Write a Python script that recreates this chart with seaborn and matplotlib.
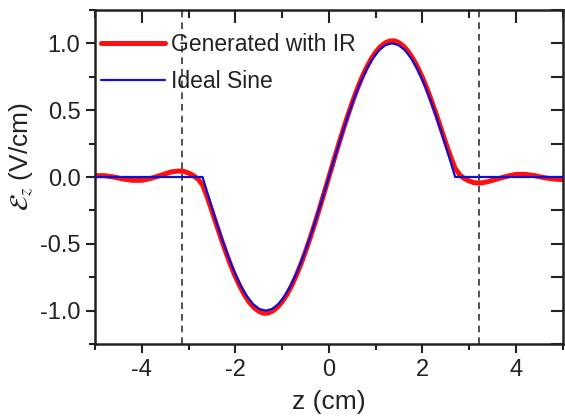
import numpy as np
import pandas as pd
import seaborn as sns
import matplotlib.pyplot as plt
from matplotlib.ticker import MultipleLocator

# ideal sine (zero outside |z| < 2.7)
z_ideal = [-5.0, -2.7, -2.565, -2.43, -2.295, -2.16, -2.025, -1.89, -1.755, -1.62, -1.485,
           -1.35, -1.215, -1.08, -0.945, -0.81, -0.675, -0.54, -0.405, -0.27, -0.135,
           0.0, 0.135, 0.27, 0.405, 0.54, 0.675, 0.81, 0.945, 1.08, 1.215,
           1.35, 1.485, 1.62, 1.755, 1.89, 2.025, 2.16, 2.295, 2.43, 2.565, 2.7, 5.0]
e_ideal = [0.0, 0.0, -0.156, -0.309, -0.454, -0.588, -0.707, -0.809, -0.891, -0.951, -0.988,
           -1.0, -0.988, -0.951, -0.891, -0.809, -0.707, -0.588, -0.454, -0.309, -0.156,
           0.0, 0.156, 0.309, 0.454, 0.588, 0.707, 0.809, 0.891, 0.951, 0.988,
           1.0, 0.988, 0.951, 0.891, 0.809, 0.707, 0.588, 0.454, 0.309, 0.156, 0.0, 0.0]

# field generated with IR
z_ir = [-5.0, -4.8, -4.6, -4.4, -4.2, -4.0, -3.8, -3.6, -3.4, -3.3, -3.2, -3.1, -3.0, -2.9,
        -2.8, -2.7, -2.6, -2.5, -2.4, -2.3, -2.2, -2.1, -2.0, -1.9, -1.8, -1.7, -1.6, -1.5,
        -1.4, -1.3, -1.2, -1.1, -1.0, -0.9, -0.8, -0.7, -0.6, -0.5, -0.4, -0.3, -0.2, -0.1,
        0.0, 0.1, 0.2, 0.3, 0.4, 0.5, 0.6, 0.7, 0.8, 0.9, 1.0, 1.1, 1.2, 1.3,
        1.4, 1.5, 1.6, 1.7, 1.8, 1.9, 2.0, 2.1, 2.2, 2.3, 2.4, 2.5, 2.6, 2.7,
        2.8, 2.9, 3.0, 3.1, 3.2, 3.3, 3.4, 3.6, 3.8, 4.0, 4.2, 4.4, 4.6, 4.8, 5.0]
e_ir = [0.01, 0.01, 0.0, -0.015, -0.025, -0.025, -0.01, 0.012, 0.035, 0.042, 0.045, 0.042, 0.03, 0.012,
        -0.015, -0.06, -0.15, -0.255, -0.36, -0.465, -0.565, -0.66, -0.745, -0.82, -0.885, -0.938, -0.978, -1.005,
        -1.02, -1.018, -1.003, -0.975, -0.935, -0.881, -0.816, -0.74, -0.654, -0.558, -0.456, -0.348, -0.235, -0.118,
        0.0, 0.118, 0.235, 0.348, 0.456, 0.558, 0.654, 0.74, 0.816, 0.881, 0.935, 0.975, 1.003, 1.018,
        1.02, 1.005, 0.978, 0.938, 0.885, 0.82, 0.745, 0.66, 0.565, 0.465, 0.36, 0.255, 0.155, 0.065,
        0.015, -0.012, -0.03, -0.042, -0.045, -0.042, -0.035, -0.015, 0.005, 0.02, 0.02, 0.01, -0.005, -0.015, -0.02]

# region boundaries (dashed)
z_bounds = [-3.15, 3.22]

sns.set_theme(style="ticks")
plt.rcParams['font.family'] = ['Liberation Sans', 'DejaVu Sans']
plt.rcParams['mathtext.fontset'] = 'stix'

fig, ax = plt.subplots(figsize=(5.65, 4.17), dpi=100)
fig.subplots_adjust(left=95/565, right=0.996, top=1 - 10/417, bottom=1 - 344/417)

for zb in z_bounds:
    ax.axvline(zb, color="#333333", lw=1.2, ls=(0, (4, 3)), zorder=1)

ir = pd.DataFrame({"z": z_ir, "E": e_ir})
ideal = pd.DataFrame({"z": z_ideal, "E": e_ideal})
sns.lineplot(data=ir, x="z", y="E", color="#ff1010", lw=3.6, sort=False, ax=ax,
             label="Generated with IR", zorder=2)
sns.lineplot(data=ideal, x="z", y="E", color="#1010d0", lw=1.6, sort=False, ax=ax,
             label="Ideal Sine", zorder=3)

ax.set_xlim(-5, 5)
ax.set_ylim(-1.25, 1.25)
ax.set_xticks([-4, -2, 0, 2, 4])
ax.set_xticklabels(["-4", "-2", "0", "2", "4"])
ax.xaxis.set_minor_locator(MultipleLocator(1))
ax.set_yticks([-1.0, -0.5, 0.0, 0.5, 1.0])
ax.set_yticklabels(["-1.0", "-0.5", "0.0", "0.5", "1.0"])
ax.yaxis.set_minor_locator(MultipleLocator(0.25))

ax.tick_params(which="major", direction="out", length=6.5, width=1.5, labelsize=17,
               colors="#222222", pad=4)
ax.tick_params(which="minor", direction="out", length=4, width=1.5, colors="#222222")

# inward mirrored ticks on top and right
sx = ax.secondary_xaxis("top")
sx.set_xticks([-4, -2, 0, 2, 4])
sx.xaxis.set_minor_locator(MultipleLocator(1))
sx.set_xticklabels([])
sx.tick_params(which="both", direction="in", width=1.5, colors="#222222")
sx.tick_params(which="major", length=9)
sx.tick_params(which="minor", length=6)
sy = ax.secondary_yaxis("right")
sy.set_yticks([-1.0, -0.5, 0.0, 0.5, 1.0])
sy.yaxis.set_minor_locator(MultipleLocator(0.25))
sy.set_yticklabels([])
sy.tick_params(which="both", direction="in", width=1.5, colors="#222222")
sy.tick_params(which="both", length=9)
for sec in (sx, sy):
    sec.spines[:].set_visible(False)

for s in ax.spines.values():
    s.set_visible(True)
    s.set_linewidth(1.8)
    s.set_color("#222222")

ax.set_xlabel("z (cm)", fontsize=19, color="#222222", labelpad=7)
ax.set_ylabel(r"$\mathcal{E}_z$ (V/cm)", fontsize=19, color="#222222")
ax.yaxis.set_label_coords(-0.128, 0.56)

leg = ax.legend(loc="upper left", frameon=False, fontsize=16.5, handlelength=2.8,
                handletextpad=0.26, borderaxespad=0, borderpad=0, labelspacing=0.62,
                bbox_to_anchor=(0.013, 0.932))
for t in leg.get_texts():
    t.set_color("#222222")

fig.savefig("out.png", dpi=100)
